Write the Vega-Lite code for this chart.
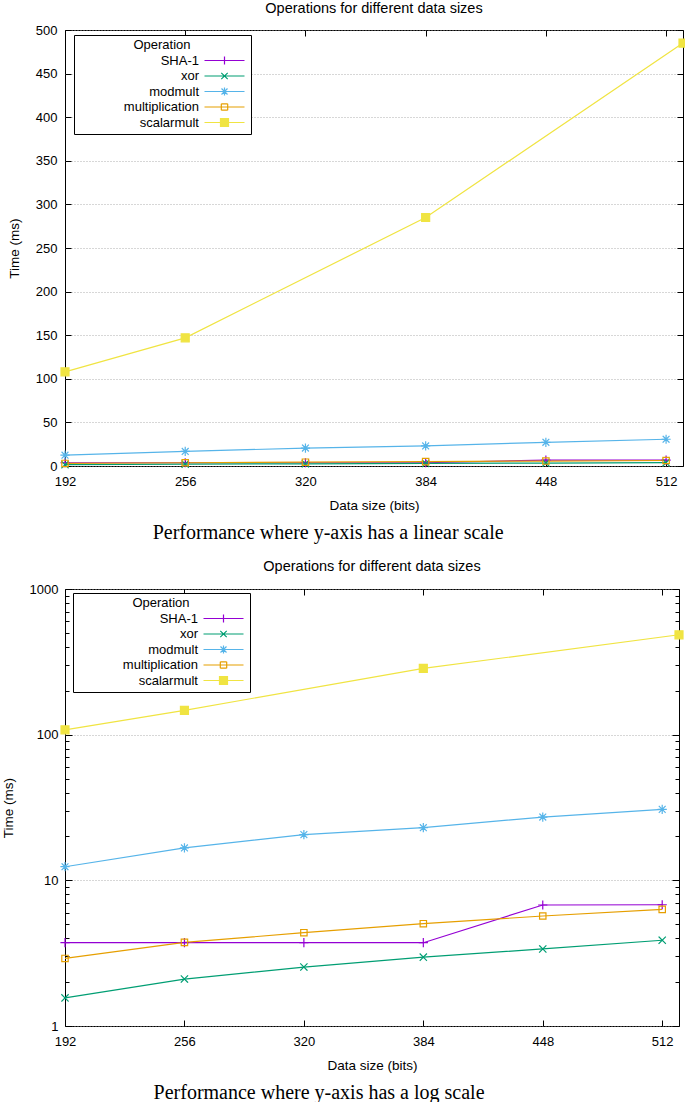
{
  "$schema": "https://vega.github.io/schema/vega-lite/v6.json",
  "padding": {"left": 0, "top": 0, "right": 0, "bottom": 0},
  "background": "white",
  "columns": 1,
  "align": "none",
  "spacing": 15,
  "datasets": {
    "perf": [
      {"op": "SHA-1", "bits": 192, "time": 3.73},
      {"op": "SHA-1", "bits": 256, "time": 3.73},
      {"op": "SHA-1", "bits": 320, "time": 3.73},
      {"op": "SHA-1", "bits": 384, "time": 3.73},
      {"op": "SHA-1", "bits": 448, "time": 6.77},
      {"op": "SHA-1", "bits": 512, "time": 6.8},
      {"op": "xor", "bits": 192, "time": 1.56},
      {"op": "xor", "bits": 256, "time": 2.1},
      {"op": "xor", "bits": 320, "time": 2.54},
      {"op": "xor", "bits": 384, "time": 2.97},
      {"op": "xor", "bits": 448, "time": 3.38},
      {"op": "xor", "bits": 512, "time": 3.88},
      {"op": "modmult", "bits": 192, "time": 12.4},
      {"op": "modmult", "bits": 256, "time": 16.7},
      {"op": "modmult", "bits": 320, "time": 20.6},
      {"op": "modmult", "bits": 384, "time": 23.0},
      {"op": "modmult", "bits": 448, "time": 27.2},
      {"op": "modmult", "bits": 512, "time": 30.7},
      {"op": "multiplication", "bits": 192, "time": 2.91},
      {"op": "multiplication", "bits": 256, "time": 3.75},
      {"op": "multiplication", "bits": 320, "time": 4.37},
      {"op": "multiplication", "bits": 384, "time": 5.04},
      {"op": "multiplication", "bits": 448, "time": 5.69},
      {"op": "multiplication", "bits": 512, "time": 6.32},
      {"op": "scalarmult", "bits": 192, "time": 108},
      {"op": "scalarmult", "bits": 256, "time": 147},
      {"op": "scalarmult", "bits": 384, "time": 285},
      {"op": "scalarmult", "bits": 521, "time": 485}
    ]
  },
  "concat": [
    {
      "title": {"text": "Performance where y-axis has a linear scale", "orient": "bottom", "font": "Liberation Serif", "fontSize": 20, "fontWeight": "normal", "color": "black", "anchor": "middle", "offset": 10, "dx": -27},
      "resolve": {"scale": {"stroke": "independent", "shape": "independent"}, "legend": {"stroke": "independent", "shape": "independent"}},
      "vconcat": [
        {
          "width": 618,
          "height": 436,
          "title": {"text": "Operations for different data sizes", "font": "Liberation Sans", "fontSize": 14.5, "fontWeight": "normal", "color": "black", "frame": "group", "anchor": "middle", "offset": 8},
          "data": {"name": "perf"},
          "resolve": {"axis": {"x": "independent", "y": "independent"}},
          "layer": [
            {
              "mark": {"type": "line", "strokeWidth": 1.2},
              "encoding": {
                "x": {"field": "bits", "type": "quantitative", "scale": {"domain": [192, 521], "nice": false, "zero": false},
                      "axis": {"orient": "bottom", "values": [192, 256, 320, 384, 448, 512], "title": "Data size (bits)", "grid": false}},
                "y": {"field": "time", "type": "quantitative", "scale": {"domain": [0, 500], "nice": false},
                      "axis": {"orient": "left", "values": [0, 50, 100, 150, 200, 250, 300, 350, 400, 450, 500], "title": "Time (ms)", "grid": true}},
                "stroke": {"field": "op", "type": "nominal",
                           "scale": {"domain": ["SHA-1", "xor", "modmult", "multiplication", "scalarmult"], "range": ["#9400d3", "#009e73", "#56b4e9", "#e69f00", "#f0e442"]},
                           "legend": {"title": "Operation"}}
              }
            },
            {
              "mark": {"type": "point", "filled": true, "size": 64, "strokeWidth": 1.2, "opacity": 1, "fill": "#f0e442", "strokeCap": "square"},
              "encoding": {
                "x": {"field": "bits", "type": "quantitative", "axis": {"orient": "top", "values": [192, 256, 320, 384, 448, 512], "labels": false, "title": null, "grid": false}},
                "y": {"field": "time", "type": "quantitative", "axis": {"orient": "right", "values": [0, 50, 100, 150, 200, 250, 300, 350, 400, 450, 500], "labels": false, "title": null, "grid": false}},
                "stroke": {"field": "op", "type": "nominal"},
                "shape": {
                  "condition": [
                    {"test": "datum.op === 'SHA-1'", "value": "M-1,0L1,0M0,-1L0,1"},
                    {"test": "datum.op === 'xor'", "value": "M-0.8,-0.8L0.8,0.8M-0.8,0.8L0.8,-0.8"},
                    {"test": "datum.op === 'modmult'", "value": "M-1,0L1,0M0,-1L0,1M-0.75,-0.75L0.75,0.75M-0.75,0.75L0.75,-0.75"},
                    {"test": "datum.op === 'multiplication'", "value": "M-0.8,-0.8L0.8,-0.8M0.8,-0.8L0.8,0.8M0.8,0.8L-0.8,0.8M-0.8,0.8L-0.8,-0.8"}
                  ],
                  "value": "M-1,-1L1,-1L1,1L-1,1Z"
                }
              }
            },
            {
              "mark": {"type": "point", "filled": true, "size": 64, "strokeWidth": 1.2, "opacity": 0, "fill": "#f0e442"},
              "encoding": {
                "x": {"field": "bits", "type": "quantitative", "axis": null},
                "y": {"field": "time", "type": "quantitative", "axis": null},
                "stroke": {"field": "op", "type": "nominal"},
                "shape": {"field": "op", "type": "nominal",
                          "scale": {"domain": ["SHA-1", "xor", "modmult", "multiplication", "scalarmult"],
                                    "range": ["M-1,0L1,0M0,-1L0,1M-5,0L5,0", "M-0.8,-0.8L0.8,0.8M-0.8,0.8L0.8,-0.8M-5,0L5,0", "M-1,0L1,0M0,-1L0,1M-0.75,-0.75L0.75,0.75M-0.75,0.75L0.75,-0.75M-5,0L5,0", "M-0.8,-0.8L0.8,-0.8M0.8,-0.8L0.8,0.8M0.8,0.8L-0.8,0.8M-0.8,0.8L-0.8,-0.8M-5,0L5,0", "M-1,-1L1,-1L1,1L-1,1ZM-5,0L5,0"]},
                          "legend": {"title": "Operation", "legendX": 9, "legendY": 5}}
              }
            }
          ]
        }
      ]
    },
    {
      "title": {"text": "Performance where y-axis has a log scale", "orient": "bottom", "font": "Liberation Serif", "fontSize": 20, "fontWeight": "normal", "color": "black", "anchor": "middle", "offset": 10, "dx": -31},
      "resolve": {"scale": {"stroke": "independent", "shape": "independent"}, "legend": {"stroke": "independent", "shape": "independent"}},
      "vconcat": [
        {
          "width": 614,
          "height": 437,
          "title": {"text": "Operations for different data sizes", "font": "Liberation Sans", "fontSize": 14.5, "fontWeight": "normal", "color": "black", "frame": "group", "anchor": "middle", "offset": 9},
          "data": {"name": "perf"},
          "resolve": {"axis": {"x": "independent", "y": "independent"}},
          "layer": [
            {
              "mark": {"type": "line", "strokeWidth": 1.2},
              "encoding": {
                "x": {"field": "bits", "type": "quantitative", "scale": {"domain": [192, 521], "nice": false, "zero": false},
                      "axis": {"orient": "bottom", "values": [192, 256, 320, 384, 448, 512], "title": "Data size (bits)", "grid": false}},
                "y": {"field": "time", "type": "quantitative", "scale": {"type": "log", "domain": [1, 1000], "nice": false},
                      "axis": {"orient": "left", "values": [1, 2, 3, 4, 5, 6, 7, 8, 9, 10, 20, 30, 40, 50, 60, 70, 80, 90, 100, 200, 300, 400, 500, 600, 700, 800, 900, 1000],
                               "labelExpr": "indexof([1,10,100,1000], datum.value) >= 0 ? format(datum.value, 'd') : ''",
                               "tickSize": {"condition": {"test": "indexof([1,10,100,1000], datum.value) >= 0", "value": -7}, "value": -4},
                               "gridOpacity": {"condition": {"test": "indexof([1,10,100,1000], datum.value) >= 0", "value": 1}, "value": 0},
                               "title": "Time (ms)", "grid": true}},
                "stroke": {"field": "op", "type": "nominal",
                           "scale": {"domain": ["SHA-1", "xor", "modmult", "multiplication", "scalarmult"], "range": ["#9400d3", "#009e73", "#56b4e9", "#e69f00", "#f0e442"]},
                           "legend": {"title": "Operation"}}
              }
            },
            {
              "mark": {"type": "point", "filled": true, "size": 64, "strokeWidth": 1.2, "opacity": 1, "fill": "#f0e442", "strokeCap": "square"},
              "encoding": {
                "x": {"field": "bits", "type": "quantitative", "axis": {"orient": "top", "values": [192, 256, 320, 384, 448, 512], "labels": false, "title": null, "grid": false}},
                "y": {"field": "time", "type": "quantitative",
                      "axis": {"orient": "right", "values": [1, 2, 3, 4, 5, 6, 7, 8, 9, 10, 20, 30, 40, 50, 60, 70, 80, 90, 100, 200, 300, 400, 500, 600, 700, 800, 900, 1000],
                               "labels": false, "title": null, "grid": false,
                               "tickSize": {"condition": {"test": "indexof([1,10,100,1000], datum.value) >= 0", "value": -7}, "value": -4}}},
                "stroke": {"field": "op", "type": "nominal"},
                "shape": {
                  "condition": [
                    {"test": "datum.op === 'SHA-1'", "value": "M-1,0L1,0M0,-1L0,1"},
                    {"test": "datum.op === 'xor'", "value": "M-0.8,-0.8L0.8,0.8M-0.8,0.8L0.8,-0.8"},
                    {"test": "datum.op === 'modmult'", "value": "M-1,0L1,0M0,-1L0,1M-0.75,-0.75L0.75,0.75M-0.75,0.75L0.75,-0.75"},
                    {"test": "datum.op === 'multiplication'", "value": "M-0.8,-0.8L0.8,-0.8M0.8,-0.8L0.8,0.8M0.8,0.8L-0.8,0.8M-0.8,0.8L-0.8,-0.8"}
                  ],
                  "value": "M-1,-1L1,-1L1,1L-1,1Z"
                }
              }
            },
            {
              "mark": {"type": "point", "filled": true, "size": 64, "strokeWidth": 1.2, "opacity": 0, "fill": "#f0e442"},
              "encoding": {
                "x": {"field": "bits", "type": "quantitative", "axis": null},
                "y": {"field": "time", "type": "quantitative", "axis": null},
                "stroke": {"field": "op", "type": "nominal"},
                "shape": {"field": "op", "type": "nominal",
                          "scale": {"domain": ["SHA-1", "xor", "modmult", "multiplication", "scalarmult"],
                                    "range": ["M-1,0L1,0M0,-1L0,1M-5,0L5,0", "M-0.8,-0.8L0.8,0.8M-0.8,0.8L0.8,-0.8M-5,0L5,0", "M-1,0L1,0M0,-1L0,1M-0.75,-0.75L0.75,0.75M-0.75,0.75L0.75,-0.75M-5,0L5,0", "M-0.8,-0.8L0.8,-0.8M0.8,-0.8L0.8,0.8M0.8,0.8L-0.8,0.8M-0.8,0.8L-0.8,-0.8M-5,0L5,0", "M-1,-1L1,-1L1,1L-1,1ZM-5,0L5,0"]},
                          "legend": {"title": "Operation", "legendX": 8, "legendY": 4}}
              }
            }
          ]
        }
      ]
    }
  ],
  "config": {
    "font": "Liberation Sans",
    "view": {"stroke": "black", "strokeWidth": 1},
    "axis": {
      "domain": false,
      "tickColor": "black",
      "tickSize": -6,
      "tickWidth": 1,
      "labelFont": "Liberation Sans",
      "labelFontSize": 13,
      "labelColor": "black",
      "labelFlush": false,
      "labelOverlap": false,
      "titleFont": "Liberation Sans",
      "titleFontSize": 13.5,
      "titleFontWeight": "normal",
      "titleColor": "black",
      "gridColor": "#999999",
      "gridDash": [1, 2],
      "gridWidth": 0.8,
      "format": "d"
    },
    "axisX": {"labelPadding": 15.5, "titlePadding": 10},
    "axisY": {"labelPadding": 14, "titlePadding": 14},
    "legend": {
      "orient": "none",
      "strokeColor": "black",
      "fillColor": "white",
      "padding": 4,
      "titleFont": "Liberation Sans",
      "titleFontSize": 13,
      "titleFontWeight": "normal",
      "titleColor": "black",
      "titleAnchor": "middle",
      "titlePadding": 2,
      "labelFont": "Liberation Sans",
      "labelFontSize": 13,
      "labelColor": "black",
      "labelAlign": "right",
      "labelOffset": -32,
      "symbolOffset": 140,
      "symbolSize": 64,
      "symbolStrokeWidth": 1.2,
      "symbolFillColor": "#f0e442",
      "rowPadding": 1.5
    }
  }
}
